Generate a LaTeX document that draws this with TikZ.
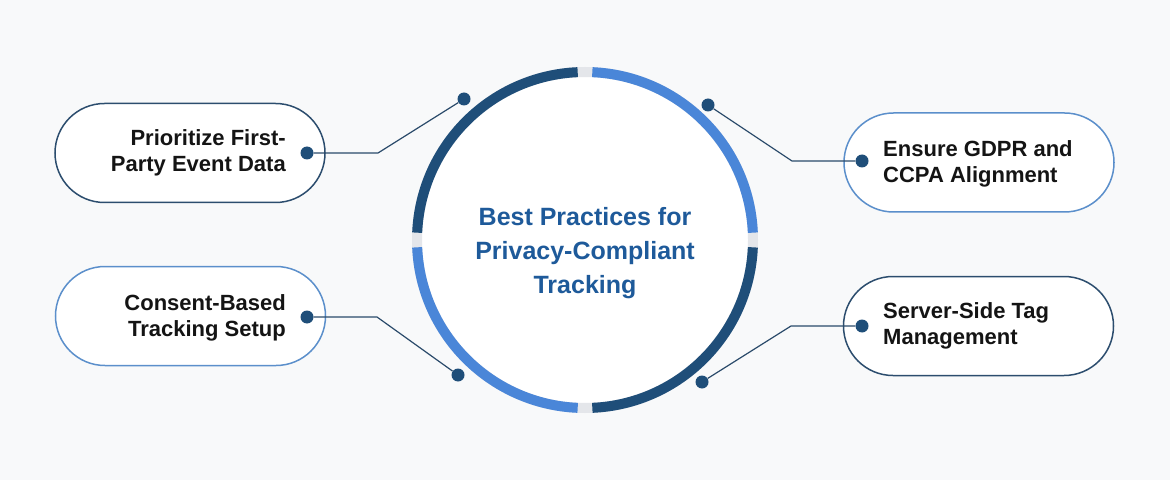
\documentclass[tikz,border=0pt]{standalone}
\usepackage{fontspec}
\setmainfont{Liberation Sans}
\usetikzlibrary{shapes.misc}
\definecolor{bgpage}{HTML}{F8F9FA}
\definecolor{ringdark}{HTML}{1F4E79}
\definecolor{ringlight}{HTML}{4A86D8}
\definecolor{ringgap}{HTML}{E4E6EA}
\definecolor{hubtext}{HTML}{1E5A9A}
\definecolor{boxdark}{HTML}{2C4D6E}
\definecolor{boxlight}{HTML}{5B8FCB}
\definecolor{wire}{HTML}{2A4A6A}
\tikzset{
  pill/.style={rounded rectangle, draw=#1, line width=1.5pt, fill=white,
    minimum width=270pt, minimum height=99pt, inner sep=0pt},
  pilltext/.style={font=\bfseries\fontsize{22}{26}\selectfont, text=black!92, inner sep=0pt},
  dot/.style={circle, fill=ringdark, minimum size=13pt, inner sep=0pt},
  wirestyle/.style={draw=wire, line width=1.2pt},
  seg/.style={line width=10pt, draw=#1},
}

\begin{document}
\begin{tikzpicture}[x=1pt,y=1pt]
\useasboundingbox (0,0) rectangle (1170,480);
\fill[bgpage] (0,0) rectangle (1170,480);
% centre circle
\node[circle, fill=white, minimum size=326pt, inner sep=0pt] (hub) at (585,240) {};
\draw[seg=ringgap] (hub.center) circle[radius=168];
\draw[seg=ringlight] (hub.center) ++(2.5:168) arc[start angle=2.5, end angle=87.5, radius=168];
\draw[seg=ringdark] (hub.center) ++(92.5:168) arc[start angle=92.5, end angle=177.5, radius=168];
\draw[seg=ringlight] (hub.center) ++(182.5:168) arc[start angle=182.5, end angle=267.5, radius=168];
\draw[seg=ringdark] (hub.center) ++(272.5:168) arc[start angle=272.5, end angle=357.5, radius=168];
\node[align=center, text=hubtext, font=\bfseries\fontsize{25}{34}\selectfont] (title) at (585,227)
  {Best Practices for\\Privacy-Compliant\\Tracking};
% boxes
\node[pill=boxdark] (box1) at (190,327) {};
\node[pill=boxlight] (box2) at (979,317.5) {};
\node[pill=boxlight] (box3) at (190.5,164) {};
\node[pill=boxdark] (box4) at (978.5,154) {};
\node[pilltext, anchor=east, align=right] (txt1) at (286,327) {Prioritize First-\\Party Event Data};
\node[pilltext, anchor=west, align=left] (txt2) at (883,316) {Ensure GDPR and\\CCPA Alignment};
\node[pilltext, anchor=west, align=left] (txt3) at (883,154) {Server-Side Tag\\Management};
\node[pilltext, anchor=east, align=right] (txt4) at (286,162) {Consent-Based\\Tracking Setup};
% dots
\node[dot] (d1) at (307,327) {};
\node[dot] (d2) at (862,319) {};
\node[dot] (d3) at (307,163) {};
\node[dot] (d4) at (862,154) {};
\node[dot] (r1) at (464,381) {};
\node[dot] (r2) at (708,375) {};
\node[dot] (r3) at (458,105) {};
\node[dot] (r4) at (702,98) {};
\coordinate (b1) at (378,327);
\coordinate (b2) at (792,319);
\coordinate (b3) at (377,163);
\coordinate (b4) at (791,154);
% connectors
\draw[wirestyle] (d1) -- (b1) -- (r1);
\draw[wirestyle] (d2) -- (b2) -- (r2);
\draw[wirestyle] (d3) -- (b3) -- (r3);
\draw[wirestyle] (d4) -- (b4) -- (r4);
\end{tikzpicture}
\end{document}
